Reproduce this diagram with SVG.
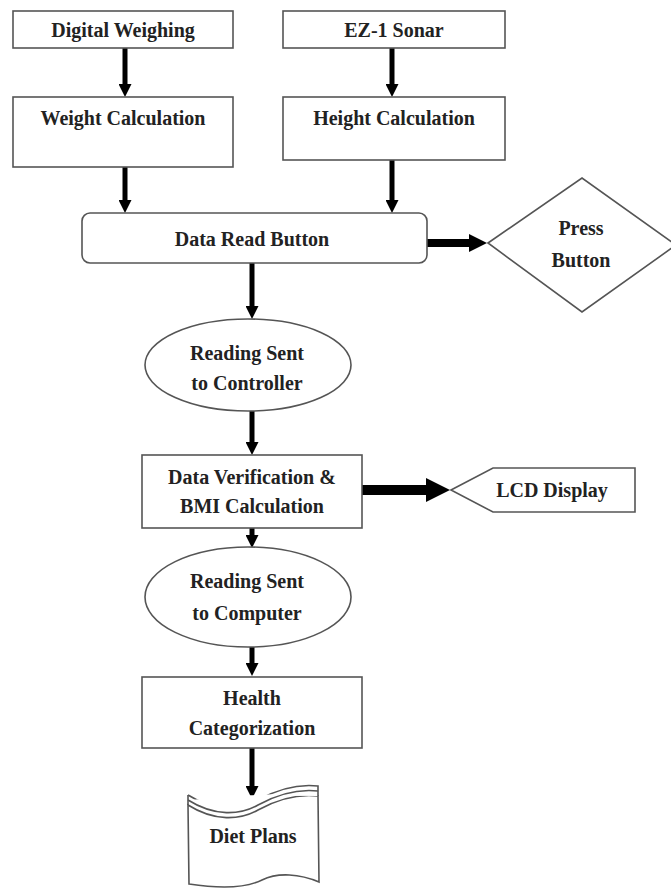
<svg xmlns="http://www.w3.org/2000/svg" width="671" height="891" viewBox="0 0 671 891">
  <defs>
    <style>
      .box { fill: #ffffff; stroke: #555555; stroke-width: 1.6; }
      .lbl { font-family: 'Liberation Serif', serif; font-weight: bold; font-size: 20px; fill: #222222; text-anchor: middle; }
      .wire { stroke: #000000; fill: none; }
      .thin { stroke-width: 5; }
      .thick { stroke-width: 8; }
      .thicker { stroke-width: 10; }
    </style>
    <marker id="ah" markerUnits="userSpaceOnUse" markerWidth="13" markerHeight="13" refX="1" refY="6.5" orient="auto">
      <path d="M0,0 L13,6.5 L0,13 z" fill="#000"/>
    </marker>
    <marker id="ahb" markerUnits="userSpaceOnUse" markerWidth="18" markerHeight="18" refX="1" refY="9" orient="auto">
      <path d="M0,0 L18,9 L0,18 z" fill="#000"/>
    </marker>
    <marker id="ahc" markerUnits="userSpaceOnUse" markerWidth="24" markerHeight="24" refX="1" refY="12" orient="auto">
      <path d="M0,0 L24,12 L0,24 z" fill="#000"/>
    </marker>
  </defs>

  <rect width="671" height="891" fill="#ffffff"/>

  <!-- connectors -->
  <g id="connectors">
    <line class="wire thin" x1="125" y1="48" x2="125" y2="85" marker-end="url(#ah)"/>
    <line class="wire thin" x1="392" y1="48" x2="392" y2="85" marker-end="url(#ah)"/>
    <line class="wire thin" x1="125" y1="167" x2="125" y2="201" marker-end="url(#ah)"/>
    <line class="wire thin" x1="392" y1="160" x2="392" y2="201" marker-end="url(#ah)"/>
    <line class="wire thin" x1="252" y1="263" x2="252" y2="307" marker-end="url(#ah)"/>
    <line class="wire thin" x1="252" y1="411" x2="252" y2="443" marker-end="url(#ah)"/>
    <line class="wire thin" x1="252" y1="528" x2="252" y2="536" marker-end="url(#ah)"/>
    <line class="wire thin" x1="252" y1="647" x2="252" y2="664" marker-end="url(#ah)"/>
    <line class="wire thin" x1="252" y1="748" x2="252" y2="787" marker-end="url(#ah)"/>
    <line class="wire thick" x1="427" y1="243" x2="470" y2="243" marker-end="url(#ahb)"/>
    <line class="wire thicker" x1="362" y1="490" x2="427" y2="490" marker-end="url(#ahc)"/>
  </g>

  <g font-family="Liberation Serif, serif">
  <g id="digital-weighing">
    <rect class="box" x="13" y="11" width="220" height="37"/>
    <text class="lbl" x="123" y="37">Digital Weighing</text>
  </g>

  <g id="ez1-sonar">
    <rect class="box" x="283" y="11" width="222" height="37"/>
    <text class="lbl" x="394" y="37">EZ-1 Sonar</text>
  </g>

  <g id="weight-calculation">
    <rect class="box" x="13" y="97" width="220" height="70"/>
    <text class="lbl" x="123" y="125">Weight Calculation</text>
  </g>

  <g id="height-calculation">
    <rect class="box" x="283" y="97" width="222" height="63"/>
    <text class="lbl" x="394" y="125">Height Calculation</text>
  </g>

  <g id="data-read-button">
    <rect class="box" x="82" y="213" width="345" height="50" rx="8"/>
    <text class="lbl" x="252" y="246">Data Read Button</text>
  </g>

  <g id="press-button">
    <polygon class="box" points="488,243 582,178 676,245 582,312"/>
    <text class="lbl" x="581" y="235">Press</text>
    <text class="lbl" x="581" y="267">Button</text>
  </g>

  <g id="reading-controller">
    <ellipse class="box" cx="248" cy="365" rx="103" ry="46"/>
    <text class="lbl" x="247" y="360">Reading Sent</text>
    <text class="lbl" x="247" y="390">to Controller</text>
  </g>

  <g id="data-verification">
    <rect class="box" x="142" y="455" width="220" height="73"/>
    <text class="lbl" x="252" y="484">Data Verification &amp;</text>
    <text class="lbl" x="252" y="513">BMI Calculation</text>
  </g>

  <g id="lcd-display">
    <polygon class="box" points="451,490 493,468 635,468 635,512 493,512"/>
    <text class="lbl" x="552" y="497">LCD Display</text>
  </g>

  <g id="reading-computer">
    <ellipse class="box" cx="248" cy="597" rx="103" ry="50"/>
    <text class="lbl" x="247" y="588">Reading Sent</text>
    <text class="lbl" x="247" y="620">to Computer</text>
  </g>

  <g id="health-categorization">
    <rect class="box" x="142" y="677" width="220" height="71"/>
    <text class="lbl" x="252" y="705">Health</text>
    <text class="lbl" x="252" y="735">Categorization</text>
  </g>

  <g id="diet-plans">
    <path class="box" d="M188,805 C215,822 240,820 258,810 C278,799 300,794 318,796 L319,882 C300,874 278,872 262,880 C244,889 215,888 189,884 Z"/>
    <path class="box" fill="none" d="M188,795 C215,812 240,810 258,800 C278,789 300,784 318,786 L318,796"/>
    <path class="box" fill="none" d="M188,800 C215,817 240,815 258,805 C278,794 300,789 318,791"/>
    <line class="box" x1="188" y1="795" x2="188" y2="805"/>
    <text class="lbl" x="253" y="843">Diet Plans</text>
  </g>
  </g>
</svg>
